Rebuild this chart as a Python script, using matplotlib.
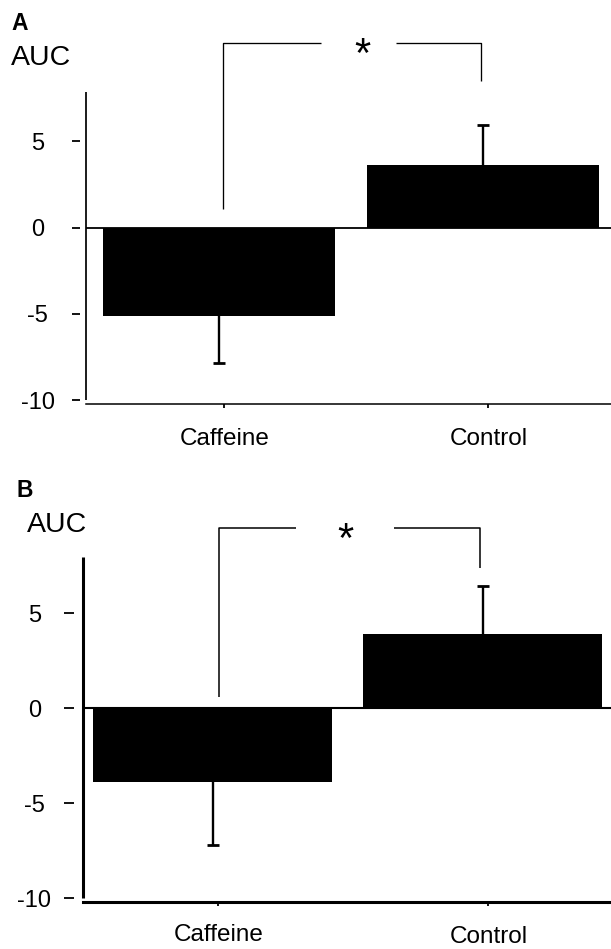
import numpy as np
import matplotlib
matplotlib.use("Agg")
import matplotlib.pyplot as plt
from matplotlib.transforms import ScaledTranslation

plt.rcParams['font.family'] = ['Liberation Sans', 'DejaVu Sans']

# ---------------- data ----------------
categories = ["Caffeine", "Control"]
yticks = [-10, -5, 0, 5]
ytick_labels = ["-10", "-5", "0", "5"]

# Panel A
means_A = [-5.1, 3.6]
err_A = [2.75, 2.35]          # one-sided SE, drawn away from zero
# Panel B
means_B = [-3.9, 3.9]
err_B = [3.3, 2.55]

W, H = 611, 949
fig = plt.figure(figsize=(W / 100, H / 100), dpi=100)


def px_ax(left, top, right, bottom):
    return fig.add_axes([left / W, 1 - bottom / H, (right - left) / W, (bottom - top) / H])


def panel(ax, means, errs, cfg):
    x = np.arange(len(categories)) + cfg['shift']
    means = np.asarray(means)
    tips = means + np.sign(means) * np.asarray(errs)
    ax.set_xlim(*cfg['xlim'])
    ax.set_ylim(*cfg['ylim'])
    ax.bar(x, means, width=cfg['width'], color='black', zorder=2)
    ax.vlines(x, means, tips, color='black', lw=1.7, zorder=3)
    ax.plot(x, tips, ls='none', marker='_', ms=8, mew=2.0, color='black', zorder=3)
    ax.axhline(0, color='black', lw=cfg['zlw'], zorder=4)

    # spines
    for s in ['top', 'right']:
        ax.spines[s].set_visible(False)
    ax.spines['bottom'].set_linewidth(cfg['xlw'])
    ax.spines['left'].set_position(('outward', cfg['tickgap']))
    ax.spines['left'].set_visible(False)
    ax.plot([0, 0], [yticks[0], cfg['ylim'][1]], color='black', lw=cfg['ylw'],
            transform=ax.get_yaxis_transform(), clip_on=False, solid_capstyle='butt')

    ax.set_yticks(yticks)
    ax.set_yticklabels(ytick_labels, fontsize=17, ha='center')
    ax.tick_params(axis='y', length=cfg['ticklen'], width=1.3, pad=cfg['ypad'])
    ax.set_xticks(np.arange(len(categories)))
    ax.set_xticklabels(categories, fontsize=17.5)
    ax.tick_params(axis='x', length=3, width=1.3, pad=cfg['xpad'])

    # significance bracket
    b = cfg['br']
    kw = dict(color='black', lw=cfg['blw'], clip_on=False, solid_capstyle='butt')
    ax.plot([b['x0'], b['x0'], b['g0']], [b['yl'], b['y'], b['y']], **kw)
    ax.plot([b['g1'], b['x1'], b['x1']], [b['y'], b['y'], b['yr']], **kw)
    ax.text(b['sx'], b['sy'], '*', fontsize=30, ha='center', va='center', clip_on=False)


axA = px_ax(85.7, 91.7, 611, 404.3)
panel(axA, means_A, err_A, dict(
    xlim=(-0.526, 1.465), ylim=(-10.22, 7.85), shift=-0.02, width=0.88,
    zlw=1.3, xlw=1.1, ylw=1.25, tickgap=4, ticklen=5.5, ypad=25.2, xpad=14,
    blw=0.95,
    br=dict(x0=-0.006, x1=0.973, g0=0.365, g1=0.65, y=10.65, yl=1.05, yr=8.47,
            sx=0.522, sy=9.9)))

axB = px_ax(82.7, 557, 611, 902.3)
panel(axB, means_B, err_B, dict(
    xlim=(-0.502, 1.454), ylim=(-10.21, 7.96), shift=-0.02, width=0.885,
    zlw=1.5, xlw=2.2, ylw=2.2, tickgap=6, ticklen=7.5, ypad=21.4, xpad=12.5,
    blw=1.1,
    br=dict(x0=0.004, x1=0.97, g0=0.289, g1=0.652, y=9.47, yl=0.61, yr=7.4,
            sx=0.47, sy=8.8)))
lab = axB.get_xticklabels()[1]
lab.set_transform(lab.get_transform() + ScaledTranslation(0, -2 / 100, fig.dpi_scale_trans))

# panel letters and axis titles
fig.text(11.7 / W, 1 - 30 / H, 'A', fontsize=16.5, fontweight='bold', ha='left', va='baseline')
fig.text(10.5 / W, 1 - 65 / H, 'AUC', fontsize=20.5, ha='left', va='baseline')
fig.text(16.7 / W, 1 - 497 / H, 'B', fontsize=16.5, fontweight='bold', ha='left', va='baseline')
fig.text(27 / W, 1 - 531.7 / H, 'AUC', fontsize=20.5, ha='left', va='baseline')

fig.savefig('out.png', dpi=100)
